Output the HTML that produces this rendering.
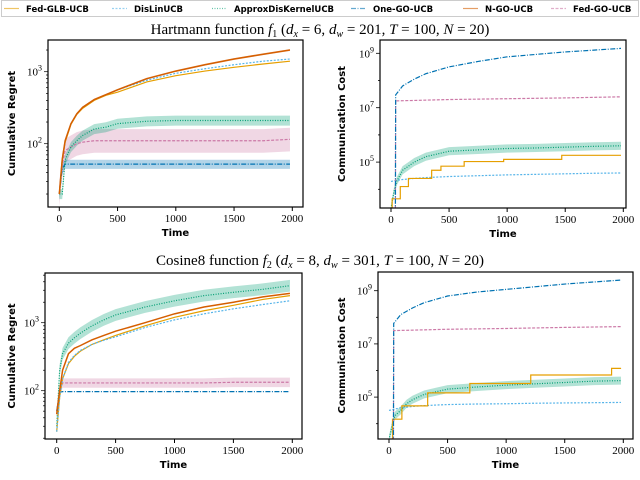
<!DOCTYPE html>
<html><head><meta charset="utf-8"><style>
body{margin:0;background:#fff;width:640px;height:475px;overflow:hidden}
svg text{font-family:"Liberation Serif",serif}
.lab{font-family:"DejaVu Sans",sans-serif;font-weight:bold;font-size:10px}
.leg{font-family:"DejaVu Sans",sans-serif;font-weight:bold;font-size:8.5px}
</style></head><body>
<svg id="c" width="640" height="475" xmlns="http://www.w3.org/2000/svg">
<g>
<rect x="1.5" y="0.5" width="637" height="16" fill="#fff" stroke="#ccc"/>
</g>
<text x="320" y="34" text-anchor="middle" font-size="15">Hartmann function <tspan font-style="italic">f</tspan><tspan font-size="10" dy="3">1</tspan><tspan dy="-3"> (</tspan><tspan font-style="italic">d</tspan><tspan font-size="10" font-style="italic" dy="3">x</tspan><tspan dy="-3"> = 6, </tspan><tspan font-style="italic">d</tspan><tspan font-size="10" font-style="italic" dy="3">w</tspan><tspan dy="-3"> = 201, </tspan><tspan font-style="italic">T</tspan> = 100, <tspan font-style="italic">N</tspan> = 20)</text>
<text x="320" y="265" text-anchor="middle" font-size="15">Cosine8 function <tspan font-style="italic">f</tspan><tspan font-size="10" dy="3">2</tspan><tspan dy="-3"> (</tspan><tspan font-style="italic">d</tspan><tspan font-size="10" font-style="italic" dy="3">x</tspan><tspan dy="-3"> = 8, </tspan><tspan font-style="italic">d</tspan><tspan font-size="10" font-style="italic" dy="3">w</tspan><tspan dy="-3"> = 301, </tspan><tspan font-style="italic">T</tspan> = 100, <tspan font-style="italic">N</tspan> = 20)</text>
</svg>
<script>
const NS="http://www.w3.org/2000/svg";
const svg=document.getElementById('c');
const names=["Fed-GLB-UCB","DisLinUCB","ApproxDisKernelUCB","One-GO-UCB","N-GO-UCB","Fed-GO-UCB"];
const colors=["#E69F00","#56B4E9","#009E73","#0072B2","#D55E00","#CC79A7"];
const dashes=["","2,1.5","1,1.5","5,1.5,1,1.5","","3,1.5"];
const T=[0,25,50,100,150,200,300,400,500,750,1000,1250,1500,1750,1980];
// Panel A: Hartmann regret
const a_nGO=[20,60,110,190,260,320,410,480,560,800,1020,1250,1500,1750,2000];
const a_disLin=[20,60,110,190,260,320,410,480,560,760,950,1100,1250,1400,1500];
const a_fedGLB=[20,58,105,185,255,310,400,470,520,720,880,1020,1150,1280,1400];
const a_approx=[20,20,60,90,110,130,160,170,190,205,210,210,210,210,210];
const a_oneGO=[20,45,52,52,52,52,52,52,52,52,52,52,52,52,52];
const a_fedGO=[20,50,80,90,100,105,110,110,110,110,110,110,110,110,115];
// Panel B: Hartmann comm cost (log10)
const b_oneGO_t=[0,38,40,100,200,300,500,750,1000,1500,1980];
const b_oneGO=[3.3,3.3,7.47,7.8,8.05,8.25,8.5,8.7,8.87,9.05,9.18];
const b_fedGO_t=[0,38,40,500,1000,1500,1980];
const b_fedGO=[3.3,3.3,7.25,7.3,7.33,7.36,7.4];
const b_disLin=[4.29,4.31,4.33,4.36,4.38,4.4,4.43,4.45,4.47,4.5,4.53,4.55,4.57,4.59,4.6];
const b_approx=[3.3,3.9,4.3,4.7,4.85,5.0,5.2,5.3,5.4,5.45,5.5,5.52,5.55,5.58,5.6];
const b_glb_t=[0,10,80,150,350,430,630,970,1470,1980];
const b_glb=[3.3,3.65,4.1,4.4,4.7,4.85,5.02,5.1,5.25,5.25];
// Panel C: Cosine8 regret
const c_approx=[30,200,350,500,600,700,900,1100,1300,1700,2100,2500,2800,3100,3500];
const c_nGO=[45,100,200,350,420,460,560,650,750,1000,1350,1700,2000,2400,2700];
const c_fedGLB=[25,80,150,250,320,380,480,560,650,900,1200,1500,1800,2200,2500];
const c_disLin=[25,80,150,260,330,390,480,550,620,850,1100,1350,1600,1850,2100];
const c_fedGO=[50,100,130,130,130,130,130,130,130,130,130,130,133,133,133];
const c_oneGO=[50,95,97,97,97,97,97,97,97,97,97,97,97,97,97];
// Panel D: Cosine8 comm cost (log10)
const d_oneGO_t=[0,38,40,100,200,300,500,750,1000,1500,1980];
const d_oneGO=[3.4,3.4,7.77,8.1,8.35,8.55,8.8,8.95,9.05,9.25,9.4];
const d_fedGO_t=[0,38,40,500,1000,1500,1980];
const d_fedGO=[3.4,3.4,7.5,7.55,7.58,7.62,7.65];
const d_disLin=[4.5,4.52,4.55,4.6,4.62,4.65,4.68,4.7,4.72,4.74,4.75,4.77,4.78,4.79,4.8];
const d_approx=[3.4,3.9,4.3,4.5,4.75,4.9,5.1,5.2,5.3,5.38,5.45,5.5,5.55,5.6,5.62];
const d_glb_t=[0,30,110,330,690,1210,1900,1980];
const d_glb=[3.4,4.17,4.67,5.16,5.51,5.83,6.08,6.08];
const xticks=[0,500,1000,1500,2000];

function el(tag,attrs,parent){const e=document.createElementNS(NS,tag);for(const k in attrs)e.setAttribute(k,attrs[k]);(parent||svg).appendChild(e);return e;}

// legend
const legX=[4,112,212,351,463,551];
names.forEach((n,i)=>{
  const g=el('g',{});
  
  
  el('line',{x1:legX[i],x2:legX[i]+15,y1:8.5,y2:8.5,stroke:colors[i],'stroke-width':1.2,'stroke-dasharray':dashes[i],opacity:0.6},g);
  const t=el('text',{x:legX[i]+22,y:12,class:'leg'},g);t.textContent=n;
});

let pid=0;
function panel(p){
  const g=el('g',{});
  
  
  const cid='clip'+(pid++);
  const cp=el('clipPath',{id:cid},g);
  el('rect',{x:p.bx,y:p.by,width:p.bw,height:p.bh},cp);
  const inner=el('g',{'clip-path':'url(#'+cid+')'},g);
  const xs=t=>p.x0+t*(p.x2000-p.x0)/2000;
  const ys=v=>p.yref+(p.refExp-v)*p.ppd; // v is log10
  (p.bands||[]).forEach(b=>{
    let d='';b.t.forEach((t,i)=>{d+=(i?'L':'M')+xs(t)+','+ys(b.hi[i]);});
    for(let i=b.t.length-1;i>=0;i--)d+='L'+xs(b.t[i])+','+ys(b.lo[i]);
    const pa=el('path',{d:d+'Z',fill:b.color,opacity:0.3},inner);
    
    
  });
  p.series.forEach(s=>{
    let d='';
    s.t.forEach((t,i)=>{
      if(s.step&&i){d+='L'+xs(t)+','+ys(s.v[i-1]);}
      d+=(i?'L':'M')+xs(t).toFixed(2)+','+ys(s.v[i]).toFixed(2);
    });
    const pa=el('path',{d:d,fill:'none',stroke:colors[s.c],'stroke-width':s.c==4?1.5:1.2,'stroke-dasharray':dashes[s.c]},inner);
    
    
  });
  el('rect',{x:p.bx,y:p.by,width:p.bw,height:p.bh,fill:'none',stroke:'#000','stroke-width':1.2},g);
  const bottom=p.by+p.bh;
  xticks.forEach(t=>{
    el('line',{x1:xs(t),x2:xs(t),y1:bottom,y2:bottom+4,stroke:'#000'},g);
    const tx=el('text',{x:xs(t),y:bottom+15,'text-anchor':'middle','font-size':11},g);
    tx.textContent=t;
  });
  const lo=p.refExp-(bottom-p.yref)/p.ppd, hi=p.refExp+(p.yref-p.by)/p.ppd;
  for(let e=Math.floor(lo);e<=Math.ceil(hi);e++){
    if(p.minor){for(let m=1;m<10;m++){const v=e+Math.log10(m);if(v<lo||v>hi)continue;
      el('line',{x1:p.bx-(m==1?4:2),x2:p.bx,y1:ys(v),y2:ys(v),stroke:'#000','stroke-width':0.7},g);}}
    else if(e>=lo&&e<=hi) el('line',{x1:p.bx-(p.labels.includes(e)?4:2),x2:p.bx,y1:ys(e),y2:ys(e),stroke:'#000','stroke-width':0.8},g);
    if(p.labels.includes(e)&&e>=lo&&e<=hi){
      const tx=el('text',{x:p.bx-6,y:ys(e)+4,'text-anchor':'end','font-size':11},g);
      tx.innerHTML='10<tspan font-size="8" dy="-5">'+e+'</tspan>';
    }
  }
  const xl=el('text',{x:(p.bx+p.bx+p.bw)/2,y:bottom+29,'text-anchor':'middle',class:'lab'},g);
  
  
  xl.textContent='Time';
  const yl=el('text',{x:0,y:0,'text-anchor':'middle',class:'lab',transform:`translate(${p.ylx},${p.by+p.bh/2}) rotate(-90)`},g);
  
  
  yl.textContent=p.ylabel;
}
const L=a=>a.map(v=>Math.log10(v));
const sc=(a,f)=>a.map(v=>Math.log10(v*f));
const ad=(a,d)=>a.map(v=>v+d);

panel({name:'panel-hartmann-regret',bx:48,by:40,bw:255,bh:167,x0:59.3,x2000:292.3,yref:71.7,refExp:3,ppd:72,minor:true,labels:[2,3],ylx:15,ylabel:'Cumulative Regret',
 bands:[{t:T,lo:sc(a_fedGO,0.68),hi:sc(a_fedGO,1.45),color:'#CC79A7'},{t:T,lo:sc(a_oneGO,0.86),hi:sc(a_oneGO,1.15),color:'#0072B2'},{t:T,lo:sc(a_approx,0.85),hi:sc(a_approx,1.17),color:'#009E73'},{t:T,lo:sc(a_nGO,0.97),hi:sc(a_nGO,1.03),color:'#D55E00'}],
 series:[{c:5,t:T,v:L(a_fedGO)},{c:3,t:T,v:L(a_oneGO)},{c:2,t:T,v:L(a_approx)},{c:0,t:T,v:L(a_fedGLB)},{c:1,t:T,v:L(a_disLin)},{c:4,t:T,v:L(a_nGO)}]});
panel({name:'panel-hartmann-comm',bx:380,by:40,bw:246,bh:168,x0:391,x2000:623.3,yref:53.3,refExp:9,ppd:27.2,minor:false,labels:[5,7,9],ylx:345,ylabel:'Communication Cost',
 bands:[{t:T,lo:ad(b_approx,-0.15),hi:ad(b_approx,0.15),color:'#009E73'}],
 series:[{c:1,t:T,v:b_disLin},{c:2,t:T,v:b_approx},{c:0,t:b_glb_t,v:b_glb,step:true},{c:5,t:b_fedGO_t,v:b_fedGO},{c:3,t:b_oneGO_t,v:b_oneGO}]});
panel({name:'panel-cosine8-regret',bx:45,by:273,bw:257,bh:166,x0:56.7,x2000:292.3,yref:322.7,refExp:3,ppd:68,minor:true,labels:[2,3],ylx:15,ylabel:'Cumulative Regret',
 bands:[{t:T,lo:sc(c_fedGO,0.85),hi:sc(c_fedGO,1.17),color:'#CC79A7'},{t:T,lo:sc(c_approx,0.82),hi:sc(c_approx,1.22),color:'#009E73'}],
 series:[{c:5,t:T,v:L(c_fedGO)},{c:3,t:T,v:L(c_oneGO)},{c:2,t:T,v:L(c_approx)},{c:0,t:T,v:L(c_fedGLB)},{c:1,t:T,v:L(c_disLin)},{c:4,t:T,v:L(c_nGO)}]});
panel({name:'panel-cosine8-comm',bx:378,by:272,bw:255,bh:167,x0:389,x2000:623.3,yref:290.7,refExp:9,ppd:26.6,minor:false,labels:[5,7,9],ylx:345,ylabel:'Communication Cost',
 bands:[{t:T,lo:ad(d_approx,-0.15),hi:ad(d_approx,0.15),color:'#009E73'}],
 series:[{c:1,t:T,v:d_disLin},{c:2,t:T,v:d_approx},{c:0,t:d_glb_t,v:d_glb,step:true},{c:5,t:d_fedGO_t,v:d_fedGO},{c:3,t:d_oneGO_t,v:d_oneGO}]});
</script>
</body></html>
